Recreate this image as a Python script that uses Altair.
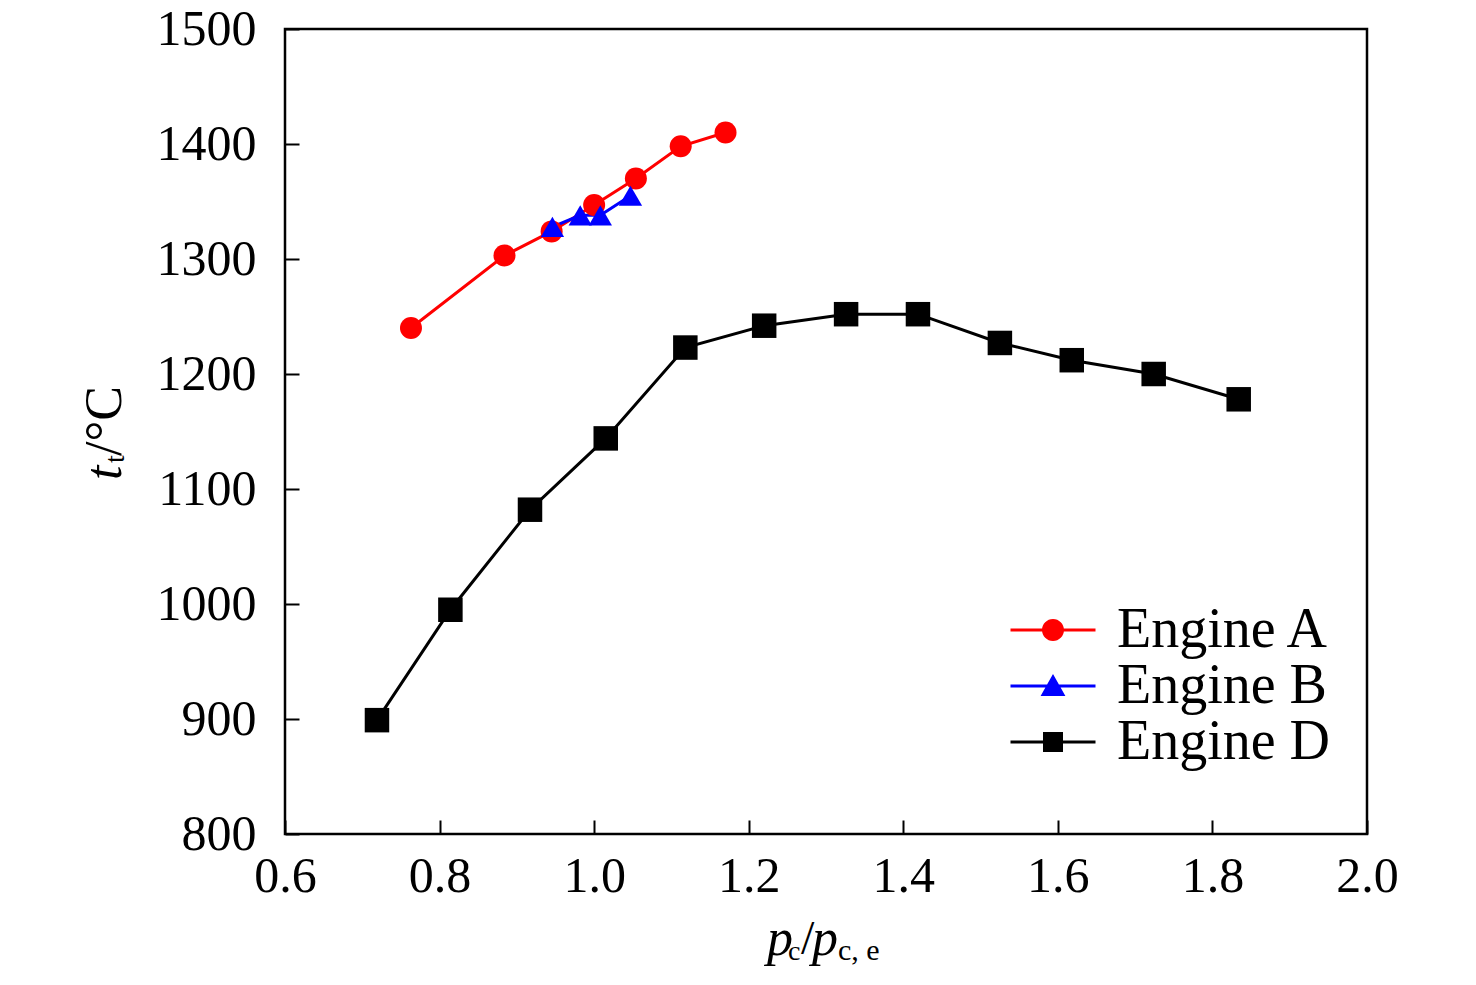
import altair as alt
import pandas as pd

engines = ["Engine A", "Engine B", "Engine D"]
colors = ["#ff0000", "#0000ff", "#000000"]

a_x = [0.763, 0.884, 0.945, 1.000, 1.054, 1.112, 1.170]
a_y = [1240, 1303, 1324, 1347, 1370, 1398, 1410]
b_x = [0.946, 0.982, 1.008, 1.047]
b_y = [1328, 1338, 1338, 1355]
d_x = [0.719, 0.814, 0.917, 1.015, 1.118, 1.220, 1.326, 1.419, 1.525, 1.618, 1.724, 1.834]
d_y = [899, 995, 1082, 1144, 1223, 1242, 1252, 1252, 1227, 1212, 1200, 1178]

x_ticks = [0.6, 0.8, 1.0, 1.2, 1.4, 1.6, 1.8, 2.0]
y_ticks = [800, 900, 1000, 1100, 1200, 1300, 1400, 1500]

rows = []
for name, xs, ys in [("Engine A", a_x, a_y), ("Engine B", b_x, b_y), ("Engine D", d_x, d_y)]:
    for i, (xv, yv) in enumerate(zip(xs, ys)):
        rows.append({"engine": name, "x": xv, "y": yv, "order": i})
df = pd.DataFrame(rows)

FONT = "Liberation Serif"
W, H = 1082, 805

xscale = alt.Scale(domain=[0.6, 2.0], nice=False, zero=False)
yscale = alt.Scale(domain=[800, 1500], nice=False, zero=False)
cscale = alt.Scale(domain=engines, range=colors)

base = alt.Chart(df)

lines = base.mark_line(strokeWidth=3).encode(
    x=alt.X("x:Q", scale=xscale, axis=alt.Axis(
        orient="bottom", values=x_ticks, format=".1f", ticks=False, domain=False,
        grid=False, title=None, labelFont=FONT, labelFontSize=50, labelColor="black",
        labelPadding=17, labelFlush=False, labelOverlap=False, labelBound=False)),
    y=alt.Y("y:Q", scale=yscale, axis=alt.Axis(
        orient="left", values=y_ticks, format="d", ticks=False, domain=False,
        grid=False, title=None, labelFont=FONT, labelFontSize=50, labelColor="black",
        labelPadding=29, labelFlush=False, labelOverlap=False, labelBound=False)),
    color=alt.Color("engine:N", scale=cscale, legend=None),
    detail="engine:N",
    order="order:Q",
)

points = base.mark_point(filled=True, opacity=1).encode(
    x=alt.X("x:Q", scale=xscale, axis=alt.Axis(
        orient="bottom", values=x_ticks, labels=False, domain=False, ticks=True,
        tickSize=14, tickWidth=2, tickColor="black", offset=-14, grid=False, title=None)),
    y=alt.Y("y:Q", scale=yscale, axis=alt.Axis(
        orient="left", values=y_ticks, labels=False, domain=False, ticks=True,
        tickSize=14, tickWidth=2, tickColor="black", offset=-14, grid=False, title=None)),
    color=alt.Color("engine:N", scale=cscale, legend=None),
    shape=alt.Shape("engine:N", scale=alt.Scale(domain=engines,
                    range=["circle", "triangle-up", "square"]), legend=None),
    size=alt.Size("engine:N", scale=alt.Scale(domain=engines, range=[484, 600, 324]), legend=None),
)

line_bar = "M-2.125,-0.075H2.125V0.075H-2.125Z"
leg_shapes = [
    line_bar + "M0.55,0A0.55,0.55 0 1 1 -0.55,0A0.55,0.55 0 1 1 0.55,0Z",
    line_bar + "M0,-0.6L0.62,0.5H-0.62Z",
    line_bar + "M-0.5,-0.5H0.5V0.5H-0.5Z",
]
leg = dict(orient="none", legendX=740, legendY=573, title=None, symbolSize=1600,
           labelFont=FONT, labelFontSize=56, labelColor="black", labelOffset=36,
           labelLimit=500, rowPadding=0, padding=0, symbolOpacity=1, symbolStrokeWidth=0)

legend_layer = base.mark_point(filled=True, opacity=0).encode(
    x=alt.X("x:Q", scale=xscale, axis=None),
    y=alt.Y("y:Q", scale=yscale, axis=None),
    color=alt.Color("engine:N", scale=cscale, legend=alt.Legend(**leg)),
    shape=alt.Shape("engine:N", scale=alt.Scale(domain=engines, range=leg_shapes),
                    legend=alt.Legend(**leg)),
)

one = alt.Data(values=[{}])

def txt(s, x, y, size, italic=False, angle=0):
    kw = dict(font=FONT, fontSize=size, align="left", baseline="alphabetic", color="black")
    if italic:
        kw["fontStyle"] = "italic"
    if angle:
        kw["angle"] = angle
    return alt.Chart(one).mark_text(**kw).encode(
        x=alt.value(x), y=alt.value(y), text=alt.value(s))

titles = [
    txt("p", 482, 926, 52, True),
    txt("c", 503, 931, 28),
    txt("/", 516, 925, 48),
    txt("p", 527, 926, 52, True),
    txt("c, e", 553, 931, 30),
    txt("t", -164, 451, 52, True, 270),
    txt("t", -161, 434, 28, False, 270),
    txt("/°C", -164, 427, 52, False, 270),
]

chart = alt.layer(lines, points, legend_layer, *titles).resolve_scale(
    color="independent", shape="independent", size="independent"
).resolve_axis(x="independent", y="independent").properties(
    width=W, height=H,
    autosize=alt.AutoSizeParams(type="none"),
    padding={"left": 277, "top": 21, "right": 100, "bottom": 140},
).configure_view(stroke="black", strokeWidth=2.5)

chart.save("out.html", embed_options={"renderer": "svg", "actions": False})
